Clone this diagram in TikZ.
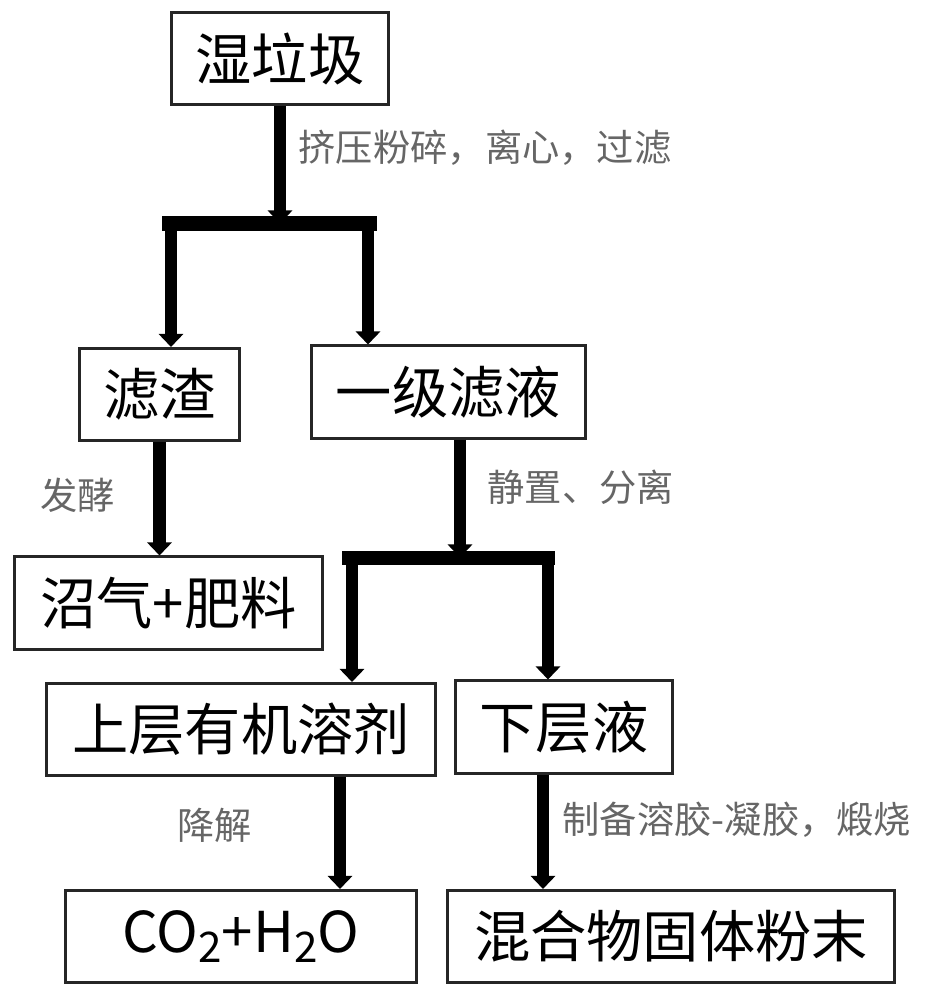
\documentclass[tikz,border=0pt]{standalone}
\usepackage{fontspec}
\newfontfamily\cjk{Noto Sans CJK SC}
\usetikzlibrary{positioning,arrows.meta}

\begin{document}
\begin{tikzpicture}[
  x=0.01cm, y=-0.01cm,
  box/.style={draw=black!85, line width=0.03cm, inner sep=0pt, minimum height=0.92cm,
              font=\cjk\fontsize{16pt}{19pt}\selectfont},
  lbl/.style={anchor=west, inner sep=0pt, text=black!60, font=\cjk\fontsize{10.6pt}{12pt}\selectfont},
  stem/.style={draw=black, line width=0.12cm, -{Triangle[width=0.24cm,length=0.13cm]}},
  bar/.style={draw=black, line width=0.14cm},
]
\useasboundingbox (0,0) rectangle (932,1000);

% ---------------- boxes ----------------
\node[box, minimum width=2.16cm] (wet) at (280,58.5)  {湿垃圾};
\node[box, minimum width=1.59cm] (zz)  at (159.5,394.5) {滤渣};
\node[box, minimum width=2.73cm] (yj)  at (448.5,392) {一级滤液};
\node[box, minimum width=3.07cm] (zq)  at (168.5,603) {沼气+肥料};
\node[box, minimum width=3.88cm] (sc)  at (241,729.5) {上层有机溶剂};
\node[box, minimum width=2.16cm] (xc)  at (564,727)   {下层液};
\node[box, minimum width=3.50cm] (co)  at (241,936.5) {CO\raisebox{-0.35ex}{\fontsize{12pt}{12pt}\selectfont 2}+H\raisebox{-0.35ex}{\fontsize{12pt}{12pt}\selectfont 2}O};
\node[box, minimum width=4.46cm] (hh)  at (671,936.5) {混合物固体粉末};

% ---------------- step labels ----------------
\node[lbl] (l1) at (298,148) {挤压粉碎，离心，过滤};
\node[lbl] (l2) at (40,495)  {发酵};
\node[lbl] (l3) at (487,487) {静置、分离};
\node[lbl] (l4) at (177,825) {降解};
\node[lbl] (l5) at (562,820) {制备溶胶-凝胶，煅烧};

% ---------------- split points ----------------
\coordinate (b1t) at (280,223.5);
\coordinate (b1l) at (162,223.5);
\coordinate (b1r) at (377,223.5);
\coordinate (b1a) at (171,223.5);
\coordinate (b1b) at (368,223.5);
\coordinate (b2t) at (460,557.5);
\coordinate (b2l) at (342,557.5);
\coordinate (b2r) at (555,557.5);
\coordinate (b2a) at (352,557.5);
\coordinate (b2b) at (548,557.5);
\coordinate (s5)  at (340,0);
\coordinate (s6)  at (543,0);

% ---------------- connectors ----------------
\draw[stem] (wet.south) -- (b1t);
\draw[stem] (b1a) -- (b1a |- zz.north);
\draw[stem] (b1b) -- (b1b |- yj.north);
\draw[bar]  (b1l) -- (b1r);

\draw[stem] (zz.south) -- (zz.south |- zq.north);

\draw[stem] (yj.south -| b2t) -- (b2t);
\draw[stem] (b2a) -- (b2a |- sc.north);
\draw[stem] (b2b) -- (b2b |- xc.north);
\draw[bar]  (b2l) -- (b2r);

\draw[stem] (sc.south -| s5) -- (co.north -| s5);
\draw[stem] (xc.south -| s6) -- (hh.north -| s6);

\end{tikzpicture}
\end{document}
